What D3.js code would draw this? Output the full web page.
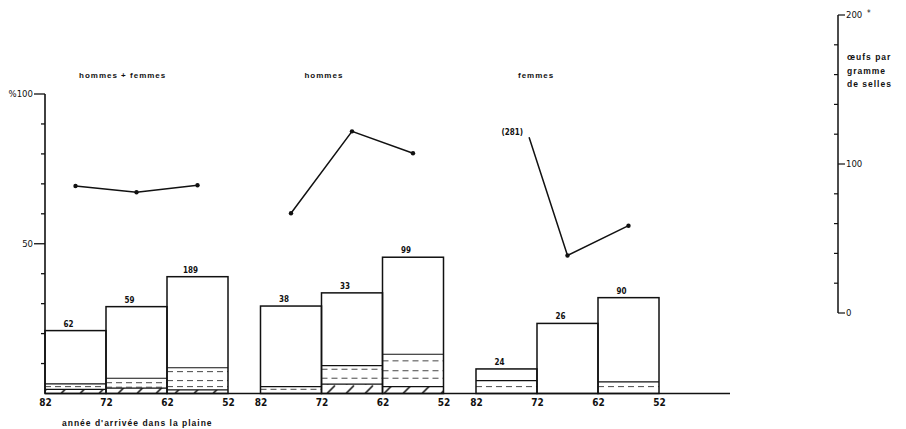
<!DOCTYPE html>
<html>
<head>
<meta charset="utf-8">
<script src="https://cdn.jsdelivr.net/npm/d3@7/dist/d3.min.js"></script>
<style>
  html, body { margin: 0; padding: 0; background: #fff; }
  svg { display: block; }
  text { fill: #111; }
  .narrow { font-family: "Liberation Sans Narrow", "DejaVu Sans Condensed", "Liberation Sans", sans-serif; }
  .wide { font-family: "Liberation Sans", "DejaVu Sans", sans-serif; font-weight: bold; }
</style>
</head>
<body>
<svg id="chart" width="906" height="429"></svg>
<script>
// Groups and the arrival-year classes (years of arrival in the plain)
const groups = ["hommes + femmes", "hommes", "femmes"];
const yearEdges = [82, 72, 62, 52];
const titleOffsets = [34, 44, 42];

// Number of people examined in each class
const counts = [[62, 59, 189], [38, 33, 99], [24, 26, 90]];

// Percent infected (bar height)
const pctTotal = [[21.0, 29.0, 39.0], [29.2, 33.6, 45.5], [8.2, 23.4, 32.0]];
// Upper limit of the intensity sub-classes inside each bar
const pctBandTop = [[3.2, 5.1, 8.6], [2.3, 9.3, 13.1], [4.3, 0, 3.9]];
// Dashed dividers between intensity sub-classes
const pctDashed = [
  [[2.3], [3.6, 2.1], [7.3, 4.3, 2.3]],
  [[1.4], [8.1, 5.1], [10.9, 7.6, 5.1]],
  [[2.3], [], [2.3]]
];
// Heaviest intensity class (hatched)
const pctHatched = [[1.4, 1.8, 1.2], [0, 3.1, 2.3], [0, 0, 0]];

// Mean eggs per gram of stool, one value per class
const eggs = [[85.2, 81.0, 85.7], [66.9, 121.9, 107.2], [281, 38.6, 58.6]];
// Off-scale value: the segment is broken at this year / value
const offScale = { group: 2, index: 0, label: "(281)", breakYear: 73.3, breakValue: 118 };

// Axis ticks
const pctTicks = d3.range(10, 101, 10);
const pctLabels = [50, 100];
const eggTicks = d3.range(0, 201, 20);
const eggLabels = [0, 100, 200];

const svg = d3.select("#chart");
const ink = "#111";

const yPct = d3.scaleLinear().domain([0, 100]).range([393.5, 94]);
const yEgg = d3.scaleLinear().domain([0, 200]).range([313, 15]);
const gx = d3.scaleBand().domain(groups).range([45, 659]).paddingInner(0.1508);

// Hatch for the heaviest class
const defs = svg.append("defs");
const pat = defs.append("pattern")
  .attr("id", "hatch").attr("patternUnits", "userSpaceOnUse")
  .attr("width", 19).attr("height", 9).attr("y", yPct(0));
pat.append("line").attr("x1", 4).attr("y1", 9).attr("x2", 12).attr("y2", 1)
  .attr("stroke", ink).attr("stroke-width", 1.6);

// Baseline
svg.append("line")
  .attr("x1", 45).attr("x2", 730)
  .attr("y1", yPct(0)).attr("y2", yPct(0))
  .attr("stroke", ink).attr("stroke-width", 1.5);

// Left percent axis
const left = svg.append("g");
left.append("line").attr("x1", 45).attr("x2", 45)
  .attr("y1", yPct(0)).attr("y2", yPct(100))
  .attr("stroke", ink).attr("stroke-width", 1.6);
left.selectAll("line.tick").data(pctTicks).join("line")
  .attr("class", "tick")
  .attr("x1", d => pctLabels.includes(d) ? 34 : 41).attr("x2", 45)
  .attr("y1", d => yPct(d)).attr("y2", d => yPct(d))
  .attr("stroke", ink).attr("stroke-width", 1.3);
left.selectAll("text").data(pctLabels).join("text")
  .attr("class", "narrow")
  .attr("x", 33).attr("y", d => yPct(d) + 3)
  .attr("text-anchor", "end").attr("font-size", 9.5)
  .text(d => d === 100 ? "%100" : d);

groups.forEach((g, gi) => {
  const x = d3.scaleLinear().domain([82, 52]).range([gx(g), gx(g) + gx.bandwidth()]);
  const grp = svg.append("g");

  // Title
  grp.append("text").attr("class", "wide")
    .attr("x", gx(g) + titleOffsets[gi]).attr("y", 78)
    .attr("font-size", 8).attr("letter-spacing", 1.0)
    .text(g);

  // Bars
  yearEdges.slice(0, 3).forEach((e0, i) => {
    const e1 = yearEdges[i + 1];
    const x0 = x(e0), x1 = x(e1);
    const b = grp.append("g");

    if (pctHatched[gi][i] > 0) {
      b.append("rect")
        .attr("x", x0).attr("width", x1 - x0)
        .attr("y", yPct(pctHatched[gi][i]))
        .attr("height", yPct(0) - yPct(pctHatched[gi][i]))
        .attr("fill", "url(#hatch)");
      b.append("line").attr("x1", x0).attr("x2", x1)
        .attr("y1", yPct(pctHatched[gi][i])).attr("y2", yPct(pctHatched[gi][i]))
        .attr("stroke", ink).attr("stroke-width", 1.2);
    }
    pctDashed[gi][i].forEach(v => {
      b.append("line").attr("x1", x0).attr("x2", x1)
        .attr("y1", yPct(v)).attr("y2", yPct(v))
        .attr("stroke", "#333").attr("stroke-width", 0.9)
        .attr("stroke-dasharray", "6,4");
    });
    if (pctBandTop[gi][i] > 0) {
      b.append("line").attr("x1", x0).attr("x2", x1)
        .attr("y1", yPct(pctBandTop[gi][i])).attr("y2", yPct(pctBandTop[gi][i]))
        .attr("stroke", ink).attr("stroke-width", 1.2);
    }
    b.append("rect")
      .attr("x", x0).attr("width", x1 - x0)
      .attr("y", yPct(pctTotal[gi][i]))
      .attr("height", yPct(0) - yPct(pctTotal[gi][i]))
      .attr("fill", "none").attr("stroke", ink).attr("stroke-width", 1.5);

    b.append("text").attr("class", "narrow")
      .attr("x", (x0 + x1) / 2 - 7).attr("y", yPct(pctTotal[gi][i]) - 4)
      .attr("text-anchor", "middle").attr("font-size", 8).attr("font-weight", "bold")
      .text(counts[gi][i]);
  });

  // Year axis
  const ax = grp.append("g")
    .attr("transform", `translate(0,${yPct(0)})`)
    .call(d3.axisBottom(x).tickValues(yearEdges).tickSize(0).tickPadding(5.5).tickFormat(d3.format("d")));
  ax.select(".domain").remove();
  ax.selectAll("text").attr("class", "narrow")
    .attr("font-size", 10).attr("font-weight", "bold").attr("fill", ink);
  ax.attr("font-family", null);

  // Eggs-per-gram line
  const mids = yearEdges.slice(0, 3).map((e, i) => (e + yearEdges[i + 1]) / 2);
  const pts = mids.map((m, i) => ({ year: m, v: eggs[gi][i], i }));
  const onScale = pts.filter(p => p.v <= 200);
  const line = d3.line().x(p => x(p.year)).y(p => yEgg(p.v));
  let path = onScale;
  if (offScale.group === gi) {
    path = [{ year: offScale.breakYear, v: offScale.breakValue }].concat(onScale);
    grp.append("text").attr("class", "narrow")
      .attr("x", x(offScale.breakYear) - 6).attr("y", yEgg(offScale.breakValue) - 2)
      .attr("text-anchor", "end").attr("font-size", 8).attr("font-weight", "bold")
      .text(offScale.label);
  }
  grp.append("path").attr("d", line(path))
    .attr("fill", "none").attr("stroke", ink).attr("stroke-width", 1.5);
  grp.selectAll("circle").data(onScale).join("circle")
    .attr("cx", p => x(p.year)).attr("cy", p => yEgg(p.v)).attr("r", 2.2)
    .attr("fill", ink);
});

// Caption under the year axis
svg.append("text").attr("class", "wide")
  .attr("x", 62).attr("y", 426)
  .attr("font-size", 8.5).attr("letter-spacing", 1.0)
  .text("année d'arrivée dans la plaine");

// Right eggs axis
const rx = 838;
const right = svg.append("g");
right.append("line").attr("x1", rx).attr("x2", rx)
  .attr("y1", yEgg(0)).attr("y2", yEgg(200))
  .attr("stroke", ink).attr("stroke-width", 1.5);
right.selectAll("line.tick").data(eggTicks).join("line")
  .attr("class", "tick")
  .attr("x1", d => eggLabels.includes(d) ? rx : rx - 4)
  .attr("x2", d => eggLabels.includes(d) ? rx + 7 : rx)
  .attr("y1", d => yEgg(d)).attr("y2", d => yEgg(d))
  .attr("stroke", ink).attr("stroke-width", 1.2);
right.selectAll("text.lab").data(eggLabels).join("text")
  .attr("class", "narrow lab")
  .attr("x", rx + 8).attr("y", d => yEgg(d) + 3)
  .attr("font-size", 9.5)
  .text(d => d);
right.append("text").attr("class", "narrow")
  .attr("x", rx + 29).attr("y", yEgg(200) + 1)
  .attr("font-size", 8).text("*");
right.selectAll("text.title").data(["œufs par", "gramme", "de selles"]).join("text")
  .attr("class", "wide title")
  .attr("x", rx + 9).attr("y", (d, i) => 60 + i * 13.5)
  .attr("font-size", 8.5).attr("letter-spacing", 1.0)
  .text(d => d);
</script>
</body>
</html>
